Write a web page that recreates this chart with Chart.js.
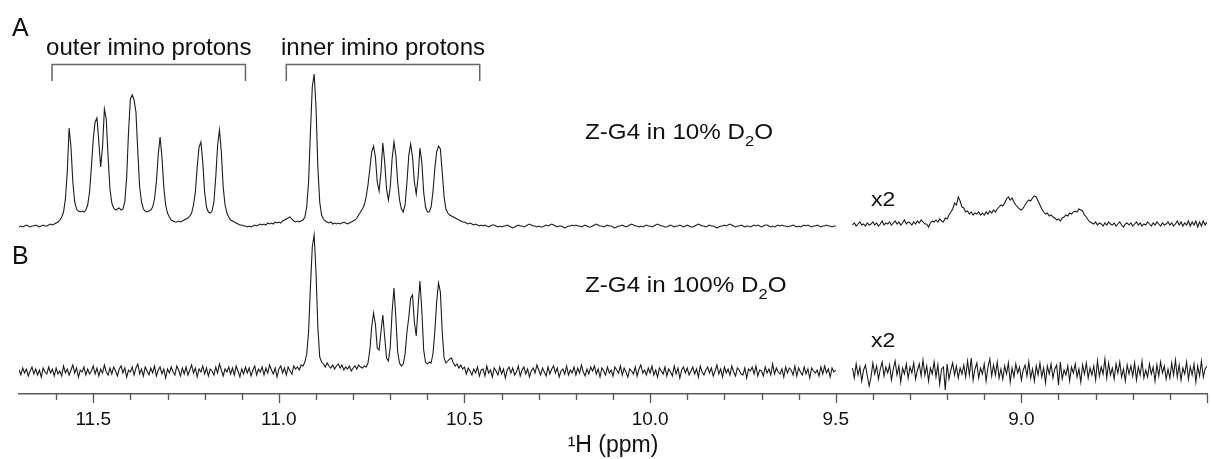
<!DOCTYPE html>
<html><head><meta charset="utf-8">
<script src="https://cdn.jsdelivr.net/npm/chart.js@4.4.0/dist/chart.umd.min.js"></script>
<style>html,body{margin:0;padding:0;background:#fff;}canvas{display:block;}</style>
</head><body>
<canvas id="c" width="1211" height="459"></canvas>
<script>
const FONT = '"Liberation Sans", Arial, sans-serif';
const ppmStep = 0.005;
const leftStartPpm = 11.7;
const rightStartPpm = 9.455;
const xMin = 8.5, xMax = 11.7;
const majorTickLabels = [11.5, 11.0, 10.5, 10.0, 9.5, 9.0];
const outerBracketPpm = [11.611, 11.090];
const innerBracketPpm = [10.980, 10.459];

// Spectrum A (Z-G4 in 10% D2O), 11.700 -> 9.500 ppm, step 0.005
const specA_left = [
0,1,0,1,2,1,0,1,1,2,
1,0,1,2,1,1,2,3,2,3,
4,5,7,10,15,28,55,99,80,45,
25,18,16,15,16,15,17,22,35,60,
88,105,109,85,60,80,118,108,70,38,
24,19,17,18,19,17,18,25,50,95,
128,132,127,115,75,40,25,18,16,15,
16,17,20,28,45,72,90,70,40,22,
14,10,7,6,5,5,6,5,6,7,
8,9,11,14,22,35,60,80,85,65,
35,20,15,14,16,25,50,82,97,75,
40,22,14,10,7,6,5,4,3,2,
2,1,1,0,1,0,1,2,1,2,
3,2,3,2,4,3,4,3,5,4,
5,4,6,7,8,9,10,8,6,5,
6,5,6,7,10,20,45,95,140,153,
120,60,25,12,8,6,5,4,5,3,
4,3,4,3,4,5,4,3,4,5,
6,7,9,12,15,18,22,30,42,58,
75,81,70,45,36,55,84,65,38,27,
40,68,85,72,45,27,18,15,22,45,
72,83,70,45,33,50,79,65,35,20,
15,15,20,35,58,75,81,78,55,30,
18,14,12,11,10,9,8,7,6,5,
5,4,3,4,3,2,3,2,1,2,
1,2,1,0,1,2,2,1,0,1,
0,1,1,2,1,0,-1,0,1,2,
1,1,0,1,2,3,2,1,1,0,
1,0,0,1,2,1,2,3,2,1,
0,1,1,0,-1,0,1,1,2,1,
2,1,1,0,1,2,1,0,0,1,
2,3,2,1,1,0,1,2,1,1,
0,-1,0,1,1,2,1,0,1,2,
3,2,1,1,0,1,0,1,2,1,
1,0,1,2,3,2,1,1,0,0,
1,2,1,0,1,1,2,1,0,1,
2,1,0,0,1,2,3,2,1,1,
0,1,2,1,1,0,-1,0,1,1,
2,1,2,3,2,1,0,1,1,2,
1,0,1,1,0,1,2,1,2,1,
0,1,2,2,1,0,1,0,1,2,
1,2,1,1,0,1,1,2,1,0,
1,0,1,2,1,2,1,0,1,1,
2,1,0,1,1,2,1,1,0,1,
1];

// Spectrum A x2 inset, 9.455 -> 8.500 ppm, step 0.005
const specA_right = [
2,4,1,3,5,2,3,1,4,2,
3,5,2,4,1,3,6,2,4,3,
5,2,4,6,3,5,2,4,7,3,
5,4,2,5,3,6,4,7,5,3,
3,0,4,6,5,7,5,8,6,5,
9,8,12,15,18,24,22,30,26,20,
19,15,16,13,15,12,14,13,15,12,
14,12,15,13,16,14,17,15,18,20,
22,21,24,28,30,27,29,25,22,20,
18,17,19,22,25,27,26,29,31,30,
26,22,18,15,13,14,11,12,10,9,
7,8,6,9,10,12,11,14,13,15,
16,15,18,17,16,12,10,7,5,4,
3,5,2,4,3,1,4,2,5,3,
2,4,1,3,5,2,0,3,4,2,
4,1,3,5,2,4,1,3,2,5,
3,1,4,2,5,3,1,4,2,3,
5,2,4,1,3,6,2,5,1,4,
2,6,1,5,2,6,0,5,1,6,
2,5];

// Spectrum B (Z-G4 in 100% D2O), 11.700 -> 9.500 ppm, step 0.005
const specB_left = [
2,-3,4,-1,3,-4,1,5,-2,3,
-3,2,-5,4,0,-2,5,-1,3,-4,
4,-2,1,-4,6,-1,3,-3,2,7,
-1,4,-5,2,0,5,-3,3,-2,1,
6,-2,4,-4,3,-1,7,0,-3,4,
-2,5,1,-4,3,6,-1,4,-5,2,
0,5,-3,4,8,-2,3,-4,5,1,
-3,4,-1,6,-4,2,5,-2,3,-6,
3,-1,5,0,-3,6,2,-4,4,-2,
5,-3,2,7,-1,4,-5,3,0,6,
-2,4,-4,3,1,-3,5,-1,8,2,
-4,3,0,5,-2,4,-3,6,1,-5,
3,-2,5,-1,4,-4,2,6,-3,3,
0,5,-3,4,-1,7,2,-2,4,-5,
3,6,-1,4,-3,5,1,-2,6,3,
5,2,7,6,10,18,40,85,125,137,
100,45,15,10,8,5,9,6,4,7,
3,6,8,4,7,2,5,3,6,1,
4,6,3,7,5,4,6,5,9,22,
45,59,48,24,22,40,57,35,14,11,
25,60,84,55,20,9,6,8,18,40,
55,74,77,50,36,65,91,62,22,10,
8,10,9,18,40,70,89,80,40,14,
9,11,13,14,9,6,8,4,7,3,
5,-2,4,1,-3,3,-1,5,-4,2,
3,-4,6,-1,2,-5,4,1,-3,5,
-2,3,-6,2,5,-1,4,-3,0,6,
-4,2,5,-2,3,-5,1,4,-1,7,
2,-3,4,0,-4,5,-2,3,6,-1,
4,-5,1,3,-2,6,-3,2,-1,5,
-3,4,-1,7,0,-4,3,-2,5,1,
6,-2,3,-5,4,1,-3,5,-1,2,
-4,5,2,-1,6,-3,4,0,-5,3,
1,-2,5,-4,3,7,-1,2,-3,4,
-1,6,-3,2,-5,4,1,-2,5,-4,
3,0,-4,6,-2,4,-6,2,5,-1,
4,-3,1,5,-2,3,-5,6,0,-3,
2,5,-1,4,-4,1,7,-2,3,-5,
5,-1,3,-3,6,0,-4,4,2,-2,
-3,4,-6,3,1,5,-2,6,-4,2,
1,-4,5,-1,3,-3,8,-2,4,0,
-2,3,-5,5,-1,4,2,-3,6,-4,
4,0,-3,5,-2,3,-6,4,1,-1,
2,-4,5,-2,6,-1,3,-5,4,0,
2];

// Spectrum B x2 inset, 9.455 -> 8.500 ppm, step 0.005
const specB_right = [
4,-6,8,-3,5,-9,2,7,-4,-14,
-5,9,-2,6,-7,3,10,-4,5,-1,
7,-8,3,11,-3,6,-10,4,-2,8,
-6,5,-1,9,-7,2,8,-4,12,-3,
6,-9,4,-2,10,-5,7,-12,3,5,
-18,8,-7,2,9,-3,6,-6,4,-2,
7,-5,11,-3,14,-8,3,9,-6,4,
-2,8,-9,5,13,-4,7,-3,10,-6,
3,-7,6,-2,9,-10,4,-5,8,-1,
5,-8,2,7,-4,10,-6,3,-9,6,
-3,9,-5,4,-11,6,-2,8,-6,3,
7,-13,10,-7,2,-3,6,-9,5,-1,
8,-5,3,-10,7,-2,9,-6,4,-3,
6,-8,11,-4,5,-2,13,-6,9,-3,
4,-7,8,-1,10,-5,3,-9,7,-2,
6,-4,9,-8,5,-3,11,-6,2,-5,
8,-2,5,-9,7,-4,10,-1,6,-7,
3,-6,9,-3,12,-5,7,-8,4,-2,
10,-7,5,-3,8,-10,6,-4,11,-5,
3,6];

function toPoints(values, startPpm) {
  return values.map((v, i) => ({ x: +(startPpm - i * ppmStep).toFixed(3), y: v }));
}

function lineSet(values, start, axis) {
  return {
    data: toPoints(values, start), yAxisID: axis,
    borderColor: '#1c1c1c', borderWidth: 1.1, pointRadius: 0,
    tension: 0, fill: false
  };
}

function drawText(ctx, s, x, y, size, sx) {
  ctx.save();
  ctx.font = size + 'px ' + FONT;
  ctx.textBaseline = 'alphabetic';
  ctx.textAlign = 'left';
  const w = ctx.measureText(s).width * sx;
  ctx.translate(x, y); ctx.scale(sx, 1);
  ctx.fillText(s, 0, 0);
  ctx.restore();
  return w;
}
function textWidth(ctx, s, size, sx) {
  ctx.save(); ctx.font = size + 'px ' + FONT;
  const w = ctx.measureText(s).width * sx; ctx.restore(); return w;
}
function drawSampleLabel(ctx, pre, x, y) {
  let cx = x;
  cx += drawText(ctx, pre + 'D', cx, y, 22, 1.1);
  cx += drawText(ctx, '2', cx, y + 7, 15, 1.1);
  drawText(ctx, 'O', cx, y, 22, 1.1);
}

const overlay = {
  id: 'overlay',
  afterDraw(chart) {
    const ctx = chart.ctx, xs = chart.scales.x, area = chart.chartArea;
    ctx.save();
    // tick marks
    ctx.strokeStyle = '#555'; ctx.lineWidth = 1.3;
    xs.ticks.forEach(t => {
      const v = t.value;
      if (Math.abs(v - xMax) < 1e-6) return;
      const major = Math.abs(v * 2 - Math.round(v * 2)) < 1e-6;
      const px = Math.round(xs.getPixelForValue(v)) + 0.5;
      ctx.beginPath();
      ctx.moveTo(px, area.bottom);
      ctx.lineTo(px, area.bottom + (major ? 9 : 6));
      ctx.stroke();
    });
    // brackets
    ctx.strokeStyle = '#666'; ctx.lineWidth = 1.5;
    ctx.fillStyle = '#111';
    [[outerBracketPpm, 'outer imino protons'], [innerBracketPpm, 'inner imino protons']].forEach(([r, label]) => {
      const x1 = xs.getPixelForValue(r[0]), x2 = xs.getPixelForValue(r[1]);
      ctx.beginPath();
      ctx.moveTo(x1, 81); ctx.lineTo(x1, 64.5); ctx.lineTo(x2, 64.5); ctx.lineTo(x2, 81);
      ctx.stroke();
      const w = textWidth(ctx, label, 24, 1);
      drawText(ctx, label, (x1 + x2) / 2 - w / 2, 55, 24, 1);
    });
    // panel letters
    drawText(ctx, 'A', 12, 36, 25, 1);
    drawText(ctx, 'B', 12, 264, 25, 1);
    // sample labels
    drawSampleLabel(ctx, 'Z-G4 in 10% ', 585, 138.5);
    drawSampleLabel(ctx, 'Z-G4 in 100% ', 585, 291.5);
    // scale factor labels
    drawText(ctx, 'x2', 871, 205.5, 20, 1.15);
    drawText(ctx, 'x2', 871, 346.5, 20, 1.15);
    ctx.restore();
  }
};

new Chart(document.getElementById('c'), {
  type: 'line',
  data: {
    datasets: [
      lineSet(specA_left, leftStartPpm, 'yA'),
      lineSet(specA_right, rightStartPpm, 'yA'),
      lineSet(specB_left, leftStartPpm, 'yB'),
      lineSet(specB_right, rightStartPpm, 'yB')
    ]
  },
  options: {
    responsive: false,
    animation: false,
    events: [],
    layout: { padding: { left: 19, right: 4, top: 0, bottom: 0 } },
    plugins: { legend: { display: false }, tooltip: { enabled: false } },
    scales: {
      x: {
        type: 'linear', reverse: true, min: xMin, max: xMax,
        afterFit: (scale) => { scale.height = 65; },
        grid: { display: true, drawOnChartArea: false, drawTicks: true, tickLength: 10, tickColor: 'rgba(0,0,0,0)' },
        border: { display: true, color: '#5a5a5a', width: 1.5 },
        ticks: {
          stepSize: 0.1, autoSkip: false, maxRotation: 0, minRotation: 0, padding: 4,
          color: '#111', font: { family: FONT, size: 19 },
          callback: (v) => {
            const r = Math.round(v * 10) / 10;
            return majorTickLabels.some(m => Math.abs(m - r) < 1e-6) ? r.toFixed(1) : '';
          }
        },
        title: { display: true, text: '¹H (ppm)', color: '#111', font: { family: FONT, size: 23 }, padding: { top: 0, bottom: 0 } }
      },
      yA: { display: false, min: -167, max: 227 },
      yB: { display: false, min: -22, max: 372 }
    }
  },
  plugins: [overlay]
});
</script>
</body></html>
